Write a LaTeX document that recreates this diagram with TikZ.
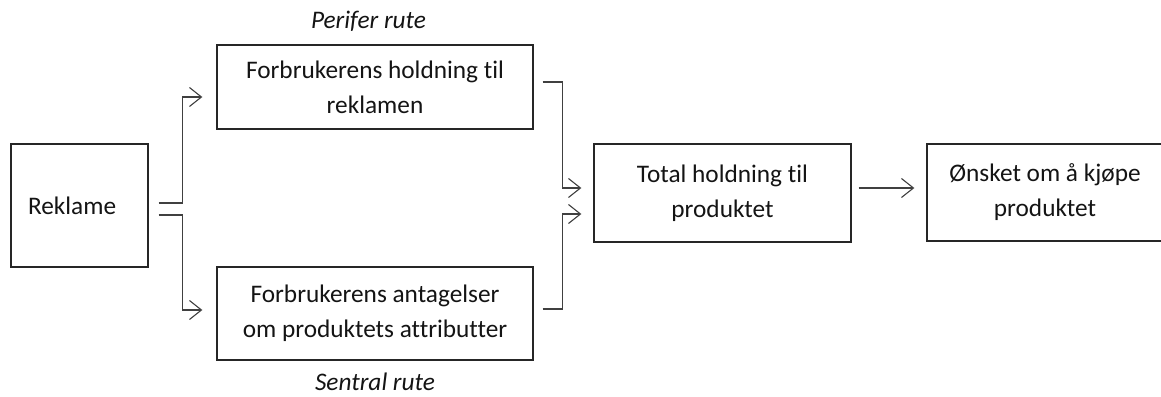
\documentclass[tikz,border=0pt]{standalone}
\usepackage{fontspec}
\setmainfont[Ligatures={NoCommon,NoRare}]{Carlito}
\usetikzlibrary{arrows.meta,calc}
\tikzset{
  box/.style={draw=black!85, line width=1.3pt, rectangle, inner sep=0pt, align=center,
    text=black!92, font=\fontsize{25.3}{35}\selectfont},
  conn/.style={draw=black!75, line width=1.3pt},
  arr/.style={-{Straight Barb[length=12pt,width=19pt,line width=1.1pt]}},
  lbl/.style={font=\fontsize{25.3}{30}\selectfont\itshape, text=black!92, inner sep=0pt}
}
\begin{document}
\begin{tikzpicture}[x=1pt,y=-1pt]
\useasboundingbox (0,0) rectangle (1161,396);
\node[box, minimum width=137pt, minimum height=123pt, text width=103pt, align=left, inner xsep=17pt] (rek) at (79.5,205.5) {Reklame};
\node[box, minimum width=316pt, minimum height=84pt] (per) at (375,87) {Forbrukerens holdning til\\reklamen};
\node[box, minimum width=316pt, minimum height=93pt] (sen) at (375,313.5) {Forbrukerens antagelser\\om produktets attributter};
\node[box, minimum width=257pt, minimum height=98pt] (tot) at (722.5,193) {Total holdning til\\produktet};
\node[box, minimum width=236pt, minimum height=97pt] (onsk) at (1045,192.5) {Ønsket om å kjøpe\\produktet};
\node[lbl] (plbl) at (368.5,21) {Perifer rute};
\node[lbl] (slbl) at (375,382) {Sentral rute};

\coordinate (a1) at ($(rek.east)+(10,-2.5)$);
\coordinate (a2) at ($(per.west)+(-14,10)$);
\coordinate (b1) at ($(rek.east)+(10,9.5)$);
\coordinate (b2) at ($(sen.west)+(-14,-3.5)$);
\coordinate (c1) at ($(per.east)+(9,-5)$);
\coordinate (c2) at ($(tot.west)+(-12,-5)$);
\coordinate (d1) at ($(sen.east)+(9,-4.5)$);
\coordinate (d2) at ($(tot.west)+(-12,21)$);
\coordinate (e1) at ($(tot.east)+(7,-5)$);
\coordinate (e2) at ($(onsk.west)+(-12,-4.5)$);

\draw[conn,arr] (a1) -- ++(24,0) |- (a2);
\draw[conn,arr] (b1) -- ++(24,0) |- (b2);
\draw[conn,arr] (c1) -- ++(20,0) |- (c2);
\draw[conn,arr] (d1) -- ++(20,0) |- (d2);
\draw[conn,arr] (e1) -- (e2);
\end{tikzpicture}
\end{document}
